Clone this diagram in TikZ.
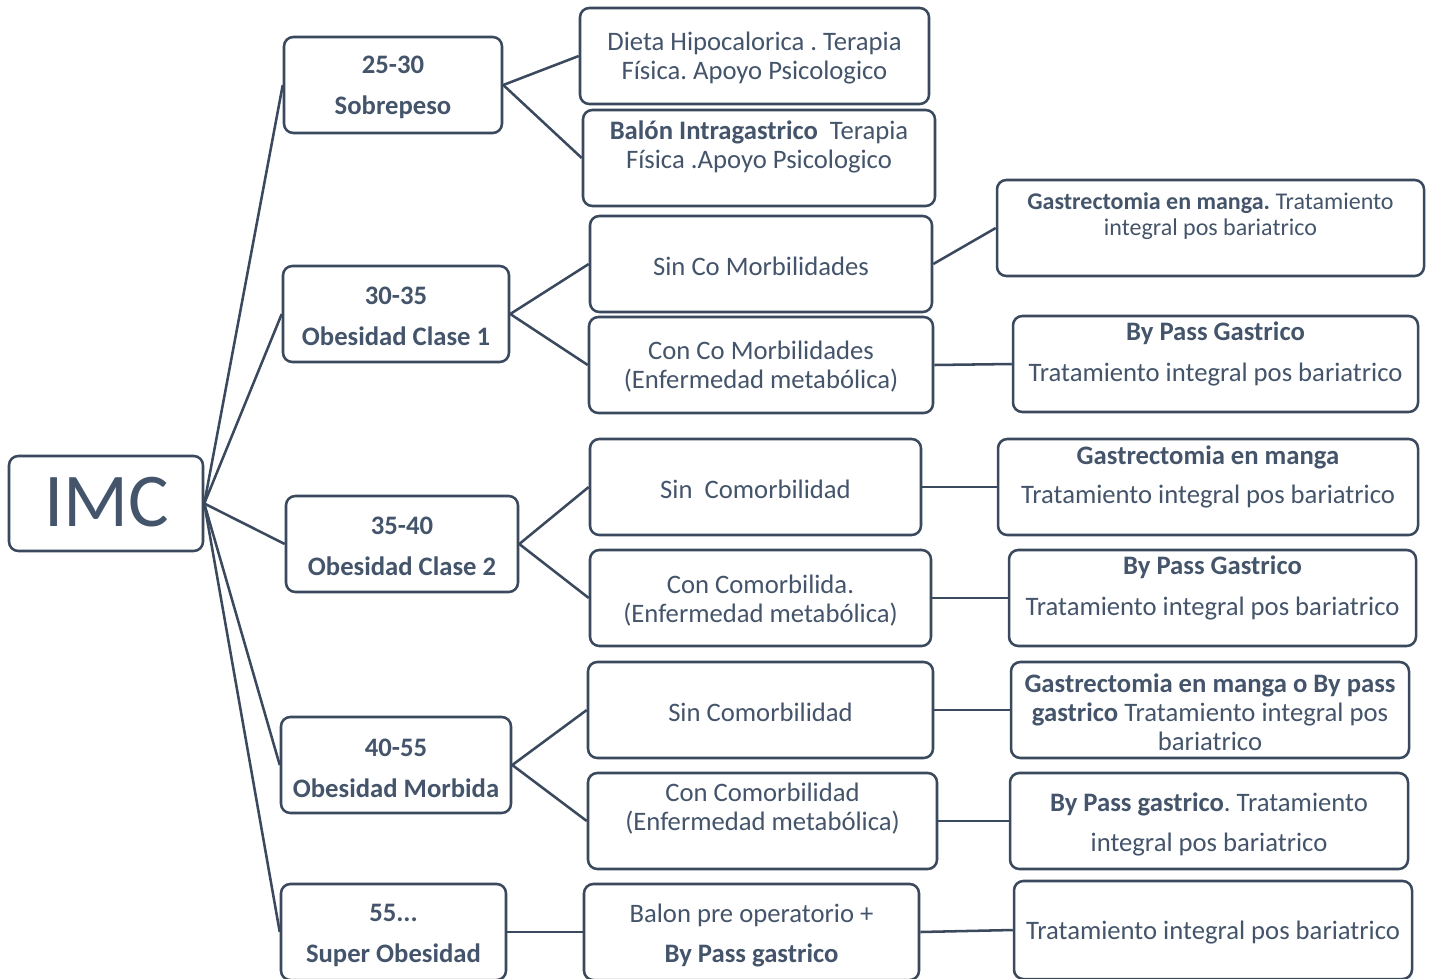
\documentclass[tikz,border=0pt]{standalone}
\usepackage{fontspec}
\setmainfont{Carlito}
\usetikzlibrary{fit}
\definecolor{tx}{HTML}{44546A}
\definecolor{ln}{HTML}{3A495D}
\frenchspacing
\tikzset{
  box/.style={draw=ln, line width=1.9pt, rounded corners=7pt, inner sep=0pt},
  txt/.style={text=tx, align=center, inner sep=0pt, yshift=-1.9pt, font=\fontsize{20}{21.75}\selectfont},
  small/.style={font=\fontsize{18}{19.5}\selectfont},
  conn/.style={draw=ln, line width=1.9pt}
}
\begin{document}
\begin{tikzpicture}[x=0.75pt,y=-0.75pt]
\clip (0,0) rectangle (1433,978);
\fill[white] (0,0) rectangle (1433,978);
% boxes
\node[box, fit={(9,456) (203,551)}] (imc) {};
\node[box, fit={(284,37) (502,133)}] (sob) {};
\node[box, fit={(580,8) (929,104)}] (dieta) {};
\node[box, fit={(583,110) (935,206)}] (balon) {};
\node[box, fit={(283,266) (509,362)}] (c1) {};
\node[box, fit={(590,216) (932,312)}] (sinA) {};
\node[box, fit={(997,180) (1424,276)}] (gmA) {};
\node[box, fit={(589,317) (933,413)}] (conA) {};
\node[box, fit={(1013,316) (1418,412)}] (bpA) {};
\node[box, fit={(286,496) (518,592)}] (c2) {};
\node[box, fit={(590,439) (921,535)}] (sinB) {};
\node[box, fit={(998,439) (1418,535)}] (gmB) {};
\node[box, fit={(590,550) (931,646)}] (conB) {};
\node[box, fit={(1009,550) (1416,646)}] (bpB) {};
\node[box, fit={(281,717) (511,813)}] (cm) {};
\node[box, fit={(588,662) (933,758)}] (sinC) {};
\node[box, fit={(1011,662) (1409,758)}] (gmC) {};
\node[box, fit={(588,773) (937,869)}] (conC) {};
\node[box, fit={(1010,773) (1408,869)}] (bpC) {};
\node[box, fit={(281,884) (506,980)}] (so) {};
\node[box, fit={(584,884) (919,980)}] (bal) {};
\node[box, fit={(1014,881) (1412,979)}] (tr) {};
% texts
\node[txt, font=\fontsize{57}{60}\selectfont] (imct) at (107,500) {IMC};
\node[txt] (sobt) at (393,84.5) {\textbf{25-30}\\[9pt]\textbf{Sobrepeso}};
\node[txt] (dietat) at (754.5,55.5) {Dieta Hipocalorica . Terapia\\Física. Apoyo Psicologico};
\node[txt] (balont) at (759,144.5) {\textbf{Balón Intragastrico}\ \ Terapia\\Física .Apoyo Psicologico};
\node[txt] (c1t) at (396,314) {\textbf{30-35}\\[9pt]\textbf{Obesidad Clase 1}};
\node[txt] (sinAt) at (761,264) {Sin Co Morbilidades};
\node[txt, small] (gmAt) at (1210.5,214) {\textbf{Gastrectomia en manga.} Tratamiento\\integral pos bariatrico};
\node[txt] (conAt) at (761,364.5) {Con Co Morbilidades\\(Enfermedad metabólica)};
\node[txt] (bpAt) at (1215.5,351.5) {\textbf{By Pass Gastrico}\\[9pt]Tratamiento integral pos bariatrico};
\node[txt] (c2t) at (402,544) {\textbf{35-40}\\[9pt]\textbf{Obesidad Clase 2}};
\node[txt] (sinBt) at (755.5,487) {Sin\ \ Comorbilidad};
\node[txt] (gmBt) at (1208,474.5) {\textbf{Gastrectomia en manga}\\[7.5pt]Tratamiento integral pos bariatrico};
\node[txt] (conBt) at (760.5,598.5) {Con Comorbilida.\\(Enfermedad metabólica)};
\node[txt] (bpBt) at (1212.5,585.5) {\textbf{By Pass Gastrico}\\[9pt]Tratamiento integral pos bariatrico};
\node[txt] (cmt) at (396,765.5) {\textbf{40-55}\\[9pt]\textbf{Obesidad Morbida}};
\node[txt] (sinCt) at (760.5,710) {Sin Comorbilidad};
\node[txt] (gmCt) at (1210,710) {\textbf{Gastrectomia en manga o By pass}\\\textbf{gastrico} Tratamiento integral pos\\bariatrico};
\node[txt] (conCt) at (762.5,806.5) {Con Comorbilidad\\(Enfermedad metabólica)};
\node[txt] (bpCt) at (1209,822) {\textbf{By Pass gastrico}. Tratamiento\\[8pt]integral pos bariatrico};
\node[txt] (sot) at (393.5,933) {\textbf{55...}\\[9pt]\textbf{Super Obesidad}};
\node[txt] (balt) at (751.5,933) {Balon pre operatorio +\\[8pt]\textbf{By Pass gastrico}};
\node[txt] (trt) at (1213,930) {Tratamiento integral pos bariatrico};
% connectors
\foreach \t in {sob,c1,c2,cm,so} \draw[conn] (imc.east) -- (\t.west);
\draw[conn] (sob.east) -- (dieta.west);
\draw[conn] (sob.east) -- (balon.west);
\draw[conn] (c1.east) -- (sinA.west);
\draw[conn] (c1.east) -- (conA.west);
\draw[conn] (sinA.east) -- (gmA.west);
\draw[conn] (conA.east) -- (bpA.west);
\draw[conn] (c2.east) -- (sinB.west);
\draw[conn] (c2.east) -- (conB.west);
\draw[conn] (sinB.east) -- (gmB.west);
\draw[conn] (conB.east) -- (bpB.west);
\draw[conn] (cm.east) -- (sinC.west);
\draw[conn] (cm.east) -- (conC.west);
\draw[conn] (sinC.east) -- (gmC.west);
\draw[conn] (conC.east) -- (bpC.west);
\draw[conn] (so.east) -- (bal.west);
\draw[conn] (bal.east) -- (tr.west);
\end{tikzpicture}
\end{document}
